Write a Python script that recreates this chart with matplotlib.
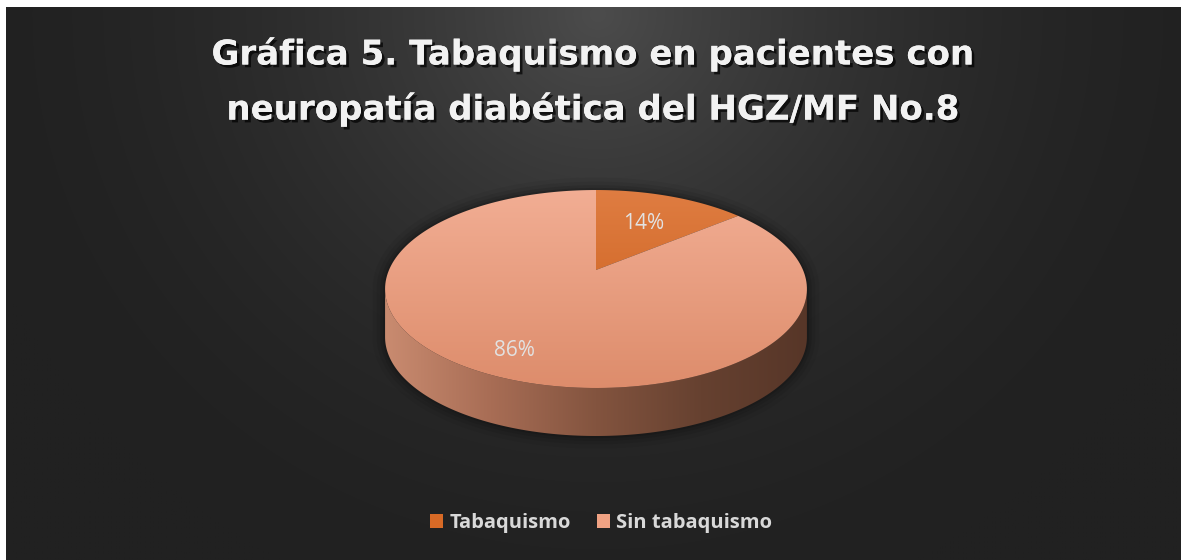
import numpy as np
import matplotlib

matplotlib.use("Agg")
import matplotlib.pyplot as plt
from matplotlib.patches import Polygon, Patch
from matplotlib.colors import LinearSegmentedColormap
import matplotlib.patheffects as pe

W, H = 1182, 560

# data
categories = ["Tabaquismo", "Sin tabaquismo"]
values = [14, 86]
pct_labels = ["14%", "86%"]
title = "Gráfica 5. Tabaquismo en pacientes con\nneuropatía diabética del HGZ/MF No.8"

# styling
TOP_COLORS = [("#df7d42", "#c95b16"), ("#f2ae94", "#dd8c6b")]
LEGEND_COLORS = ["#d86a26", "#f0a283"]
SIDE_STOPS = ["#c98b70", "#a86d55", "#83543f", "#664130", "#573628"]
LABEL_R = [0.6, 0.8]

# pie projection (pixels, y down) - mimics the perspective 3-D pie
CX, CY = 596, 270
KX = 207.0
PERSP = 0.192
VY = -43.5
DEPTH = 48


def proj(x, y, z=0.0):
    d = 1 + PERSP * y
    return CX + KX * x / d, (CY + VY * y) / d + DEPTH * z


def arc(t0, t1, r=1.0, z=0.0, n=200):
    t = np.radians(np.linspace(t0, t1, n))
    u, v = proj(r * np.cos(t), r * np.sin(t), z)
    return np.column_stack([u, v])


plt.rcParams["font.family"] = ["Open Sans", "DejaVu Sans"]
fig = plt.figure(figsize=(W / 100, H / 100), dpi=100, facecolor="white")
ax = fig.add_axes([0, 0, 1, 1])
ax.set_xlim(0, W)
ax.set_ylim(H, 0)
ax.axis("off")

# background radial gradient
yy, xx = np.mgrid[0:H, 0:W]
dist = np.hypot(xx - 595, (yy - 7) * 1.05)
t = np.clip(1 - dist / 660, 0, 1) ** 1.9
g = (0x21 + (0x4c - 0x21) * t) / 255
ax.imshow(np.dstack([g, g, g]), extent=(6, W - 1, H, 7), zorder=0,
          interpolation="bilinear")

# slice angles (start at 12 o'clock, clockwise)
fracs = np.array(values, dtype=float) / sum(values)
starts = 90 - 360 * np.concatenate([[0], np.cumsum(fracs)[:-1]])
ends = starts - 360 * fracs

# visible part of the side wall: silhouette where sin(t) = -PERSP
a_sil = np.degrees(np.arcsin(PERSP))
vis0, vis1 = 180 + a_sil, 360 - a_sil
x_left = proj(-np.cos(np.radians(a_sil)), -PERSP)[0]
x_right = proj(np.cos(np.radians(a_sil)), -PERSP)[0]

# soft shadow round the outline
outline = np.vstack([arc(-a_sil, 180 + a_sil, z=0), arc(vis0, vis1, z=1)])
for lw, al in [(18, 0.05), (12, 0.07), (7, 0.09), (3, 0.12)]:
    ax.add_patch(Polygon(outline, closed=True, facecolor="none", edgecolor="black",
                         lw=lw, alpha=al, joinstyle="round", zorder=1))

# side wall
side_cmap = LinearSegmentedColormap.from_list("side", SIDE_STOPS)
side_img = np.linspace(0, 1, 256)[None, :]
for s, e in zip(starts, ends):
    tt = np.linspace(e, s, 720) % 360
    keep = tt[(tt >= vis0) & (tt <= vis1)]
    if keep.size < 2:
        continue
    k0, k1 = keep.min(), keep.max()
    poly = np.vstack([arc(k0, k1, z=0), arc(k1, k0, z=1)])
    patch = Polygon(poly, closed=True, facecolor="none", edgecolor="none", zorder=2)
    ax.add_patch(patch)
    im = ax.imshow(side_img, cmap=side_cmap, aspect="auto",
                   extent=(x_left, x_right, 460, 250), zorder=2)
    im.set_clip_path(patch)

# top surface
ymin = proj(0, 1)[1]
ymax = proj(0, -1)[1]
grad = np.linspace(0, 1, 256)[:, None]
for i, (s, e) in enumerate(zip(starts, ends)):
    poly = np.vstack([[proj(0, 0)], arc(s, e, z=0)])
    patch = Polygon(poly, closed=True, facecolor="none", edgecolor="none", zorder=3)
    ax.add_patch(patch)
    cm = LinearSegmentedColormap.from_list(f"top{i}", TOP_COLORS[i])
    im = ax.imshow(grad, cmap=cm, aspect="auto",
                   extent=(x_left - 5, x_right + 5, ymax + 2, ymin - 2), zorder=3)
    im.set_clip_path(patch)

# data labels
for i, (s, e) in enumerate(zip(starts, ends)):
    m = np.radians((s + e) / 2)
    u, v = proj(LABEL_R[i] * np.cos(m), LABEL_R[i] * np.sin(m))
    ax.text(u, v, pct_labels[i], ha="center", va="center", fontsize=15,
            color="#e2e2e2", zorder=5)

# title
fig.text(593 / W, 1 - 37 / H, title, ha="center", va="top", fontsize=24.5,
         family="DejaVu Sans", fontweight="bold", color="#f2f2f2", linespacing=1.75,
         path_effects=[pe.withSimplePatchShadow(offset=(2, -2), shadow_rgbFace="black",
                                                alpha=0.7),
                       pe.Normal()])

# legend
handles = [Patch(facecolor=c, edgecolor="none") for c in LEGEND_COLORS]
leg = fig.legend(handles, categories, loc="center", bbox_to_anchor=(601 / W, 1 - 523 / H),
                 ncol=2, frameon=False, handlelength=0.65, handleheight=0.65,
                 handletextpad=0.3, columnspacing=1.3,
                 prop={"weight": "bold", "size": 14.5})
for txt in leg.get_texts():
    txt.set_color("#d9d9d9")

fig.savefig("out.png", dpi=100, facecolor="white")
